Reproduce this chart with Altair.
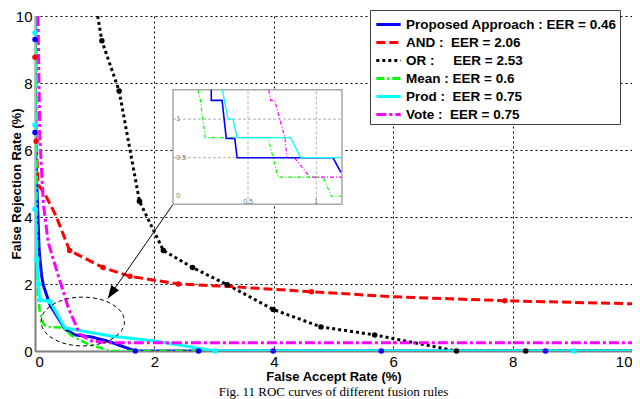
import altair as alt
import pandas as pd

# ---------------- data ----------------
SERIES = [
    "Proposed Approach : EER = 0.46",
    "AND :\u00a0\u00a0EER = 2.06",
    "OR :\u00a0\u00a0\u00a0\u00a0\u00a0EER = 2.53",
    "Mean : EER = 0.6",
    "Prod :\u00a0\u00a0EER = 0.75",
    "Vote :\u00a0\u00a0EER = 0.75",
]
COLORS = ["#0000ff", "#ff0000", "#000000", "#00ff00", "#00ffff", "#ff00ff"]
DASHES = [[1, 0], [9, 4], [3, 3], [8, 3, 2, 3], [1, 0], [10, 3, 3, 3]]
WIDTHS = [3, 3, 3, 2.5, 3, 3]

prop_x = [0.0, 0.0, 0.0, 0.04, 0.07, 0.11, 0.14, 0.25, 0.5, 0.67, 0.95, 1.26, 1.68, 2.74, 3.99, 5.8, 8.55, 10.0]
prop_y = [10.0, 9.3, 6.52, 4.45, 3.0, 2.25, 1.96, 1.38, 0.66, 0.48, 0.42, 0.27, 0.0, 0.0, 0.0, 0.0, 0.0, 0.0]
prop_mx = [0.0, 0.0, 1.68, 2.74, 3.99, 5.8, 8.55]
prop_my = [9.3, 6.52, 0.0, 0.0, 0.0, 0.0, 0.0]

and_x = [0.0, 0.0, 0.02, 0.05, 0.17, 0.35, 0.58, 1.14, 1.59, 2.4, 3.2, 4.63, 6.0, 7.87, 10.0]
and_y = [10.0, 8.77, 6.26, 4.98, 4.67, 4.04, 3.0, 2.49, 2.23, 2.0, 1.93, 1.77, 1.62, 1.5, 1.41]
and_mx = [0.0, 0.02, 0.58, 1.14, 1.59, 2.4, 4.63, 7.87]
and_my = [8.77, 6.26, 3.0, 2.49, 2.23, 2.0, 1.77, 1.5]

or_x = [1.05, 1.12, 1.41, 1.75, 2.15, 2.64, 3.22, 3.99, 4.79, 5.69, 7.06, 8.22, 10.0]
or_y = [10.0, 9.26, 7.76, 4.47, 3.0, 2.49, 1.98, 1.24, 0.72, 0.48, 0.0, 0.0, 0.0]
or_mx = [1.12, 1.41, 1.75, 2.15, 2.64, 3.22, 3.99, 4.79, 5.69, 7.06, 8.22]
or_my = [9.26, 7.76, 4.47, 3.0, 2.49, 1.98, 1.24, 0.72, 0.48, 0.0, 0.0]

mean_x = [0.02, 0.03, 0.05, 0.08, 0.14, 0.2, 0.47, 0.61, 0.87, 1.26, 10.0]
mean_y = [10.0, 4.0, 1.6, 1.19, 0.8, 0.72, 0.7, 0.46, 0.22, 0.0, 0.0]

prod_x = [0.0, 0.0, 0.0, 0.0, 0.03, 0.06, 0.08, 0.25, 0.5, 1.26, 2.0, 3.02, 9.03, 10.0]
prod_y = [10.0, 9.5, 6.75, 4.23, 2.73, 2.0, 1.53, 1.48, 0.69, 0.45, 0.3, 0.0, 0.0, 0.0]
prod_mx = [0.0, 0.0, 0.0, 0.03, 0.06, 0.08, 0.25, 3.02, 9.03]
prod_my = [9.5, 6.75, 4.23, 2.73, 2.0, 1.53, 1.48, 0.0, 0.0]

vote_x = [0.05, 0.08, 0.14, 0.22, 0.39, 0.56, 0.75, 0.95, 1.2, 10.0]
vote_y = [10.0, 6.4, 4.4, 3.25, 2.25, 1.28, 0.5, 0.3, 0.25, 0.25]

# inset (zoomed view), in the inset's own units
in_prop_x = [0.231, 0.231, 0.31, 0.341, 0.403, 0.42, 1.122, 1.18]
in_prop_y = [1.38, 1.243, 1.243, 0.748, 0.748, 0.5, 0.5, 0.31]
in_prod_x = [0.312, 0.354, 0.39, 0.42, 0.81, 0.886, 1.188]
in_prod_y = [1.38, 1.0, 1.0, 0.76, 0.76, 0.5, 0.5]
in_mean_x = [0.134, 0.151, 0.187, 0.646, 0.72, 1.05, 1.11, 1.188]
in_mean_y = [1.38, 1.243, 0.76, 0.76, 0.248, 0.248, 0.0, 0.0]
in_vote_x = [0.652, 0.666, 0.695, 0.77, 0.785, 0.84, 0.952, 1.188]
in_vote_y = [1.38, 1.243, 1.243, 0.76, 0.5, 0.5, 0.248, 0.248]
in_grid = [0.5, 1.0]
in_xlim = [-0.049, 1.188]
in_ylim = [-0.105, 1.38]

# annotations (main-plot units)
inset_box_x = [2.312, 5.142]
inset_box_y = [4.377, 7.797]
arrow_x = [2.312, 1.22]
arrow_y = [4.377, 1.57]
ellipse_center = [0.80, 0.88]

# ---------------- layout ----------------
W, H = 597, 335
FONT = "Liberation Sans"

def frame(xs, ys, name=None):
    d = pd.DataFrame({"x": xs, "y": ys, "i": list(range(len(xs)))})
    if name is not None:
        d["series"] = name
    return d

legend = alt.Legend(
    orient="none", legendX=335, legendY=-6, title=None,
    fillColor="white", strokeColor="#404040", padding=3,
    labelFont=FONT, labelFontSize=13.5, labelFontWeight="bold", labelColor="black",
    labelLimit=400, labelOffset=6,
    symbolType="M-1.25,0H1.25", symbolSize=380, symbolStrokeWidth=3, symbolOffset=4,
    rowPadding=0,
)
color_enc = alt.Color("series:N", scale=alt.Scale(domain=SERIES, range=COLORS), legend=legend)
dash_enc = alt.StrokeDash("series:N", scale=alt.Scale(domain=SERIES, range=DASHES), legend=legend)

x_enc = alt.X("x:Q", scale=alt.Scale(domain=[0, 10], nice=False, zero=False),
              axis=alt.Axis(values=[0, 2, 4, 6, 8, 10], title="False Accept Rate (%)",
                            grid=True, gridColor="black", gridDash=[2, 3], gridWidth=1,
                            domainColor="#808080", domainWidth=2, ticks=False,
                            labelFont=FONT, labelFontSize=15, labelColor="black", labelPadding=3,
                            titleFont=FONT, titleFontSize=13, titleFontWeight="bold",
                            titleColor="black", titlePadding=1))
y_enc = alt.Y("y:Q", scale=alt.Scale(domain=[0, 10], nice=False, zero=False),
              axis=alt.Axis(values=[0, 2, 4, 6, 8, 10], title="False Rejection Rate (%)",
                            grid=True, gridColor="black", gridDash=[2, 3], gridWidth=1,
                            domainColor="#808080", domainWidth=2, ticks=False,
                            labelFont=FONT, labelFontSize=15, labelColor="black", labelPadding=3,
                            titleFont=FONT, titleFontSize=13, titleFontWeight="bold",
                            titleColor="black", titleX=-12))

lines_data = [(prop_x, prop_y), (and_x, and_y), (or_x, or_y),
              (mean_x, mean_y), (prod_x, prod_y), (vote_x, vote_y)]
layers = []
for (xs, ys), name, w in zip(lines_data, SERIES, WIDTHS):
    layers.append(
        alt.Chart(frame(xs, ys, name)).mark_line(strokeWidth=w, clip=True).encode(
            x=x_enc, y=y_enc, color=color_enc, strokeDash=dash_enc, order="i:Q")
    )

markers = [(prop_mx, prop_my, COLORS[0]), (and_mx, and_my, COLORS[1]),
           (or_mx, or_my, COLORS[2]), (prod_mx, prod_my, COLORS[4])]
for mx, my, c in markers:
    layers.append(
        alt.Chart(frame(mx, my)).mark_point(filled=True, size=30, opacity=1, shape="circle").encode(
            x=x_enc, y=y_enc, color=alt.value(c))
    )

# dashed ellipse around the zoomed region
rx_px = 41.7
layers.append(
    alt.Chart(frame([ellipse_center[0]], [ellipse_center[1]])).mark_point(
        shape="M-1,0A1,0.585,0,1,1,1,0A1,0.585,0,1,1,-1,0Z",
        size=(2 * rx_px) ** 2, filled=False, stroke="black", strokeWidth=1,
        strokeDash=[4, 3], opacity=1).encode(x=x_enc, y=y_enc)
)
# arrow
arrow_df = pd.DataFrame({"x": [arrow_x[0]], "y": [arrow_y[0]], "x2": [arrow_x[1]], "y2": [arrow_y[1]]})
layers.append(
    alt.Chart(arrow_df).mark_rule(color="black", strokeWidth=1).encode(
        x=x_enc, y=y_enc, x2="x2:Q", y2="y2:Q")
)
layers.append(
    alt.Chart(frame([arrow_x[1]], [arrow_y[1]])).mark_point(
        shape="M0,0L0.36,1L-0.36,1Z", size=676, filled=True, color="black",
        angle=214, opacity=1).encode(x=x_enc, y=y_enc)
)
main = alt.layer(*layers)

# ---------------- inset ----------------
sx = (inset_box_x[1] - inset_box_x[0]) / (in_xlim[1] - in_xlim[0])
sy = (inset_box_y[1] - inset_box_y[0]) / (in_ylim[1] - in_ylim[0])
ix_dom = [in_xlim[0] - inset_box_x[0] / sx, in_xlim[1] + (10 - inset_box_x[1]) / sx]
iy_dom = [in_ylim[0] - inset_box_y[0] / sy, in_ylim[1] + (10 - inset_box_y[1]) / sy]
ix = alt.X("x:Q", scale=alt.Scale(domain=ix_dom, nice=False, zero=False), axis=None)
iy = alt.Y("y:Q", scale=alt.Scale(domain=iy_dom, nice=False, zero=False), axis=None)

box_df = pd.DataFrame({"x": [in_xlim[0]], "x2": [in_xlim[1]], "y": [in_ylim[0]], "y2": [in_ylim[1]]})
inset_layers = [
    alt.Chart(box_df).mark_rect(fill="white", stroke="#a8a8a8", strokeWidth=1.5).encode(
        x=ix, x2="x2:Q", y=iy, y2="y2:Q"),
    alt.Chart(pd.DataFrame({"x": in_grid, "y": [in_ylim[0]] * 2, "y2": [in_ylim[1]] * 2}))
    .mark_rule(color="#b0b0b0", strokeDash=[3, 2], strokeWidth=1).encode(x=ix, y=iy, y2="y2:Q"),
    alt.Chart(pd.DataFrame({"y": in_grid, "x": [in_xlim[0]] * 2, "x2": [in_xlim[1]] * 2}))
    .mark_rule(color="#b0b0b0", strokeDash=[3, 2], strokeWidth=1).encode(y=iy, x=ix, x2="x2:Q"),
    alt.Chart(pd.DataFrame({"x": in_grid, "y": [-0.07, -0.07], "t": ["0.5", "1"]}))
    .mark_text(fontSize=7, color="#777777", font=FONT).encode(x=ix, y=iy, text="t:N"),
    alt.Chart(pd.DataFrame({"x": [-0.025] * 3, "y": [0.0, 0.5, 1.0], "t": ["0", "0.5", "1"]}))
    .mark_text(fontSize=7, color="#777777", font=FONT, align="left").encode(x=ix, y=iy, text="t:N"),
]
inset_lines = [(in_mean_x, in_mean_y, COLORS[3], [4, 2, 1, 2], 1.2),
               (in_vote_x, in_vote_y, COLORS[5], [4, 2, 1, 2], 1.2),
               (in_prop_x, in_prop_y, COLORS[0], [1, 0], 1.6),
               (in_prod_x, in_prod_y, COLORS[4], [1, 0], 1.3)]
for xs, ys, c, d, w in inset_lines:
    inset_layers.append(
        alt.Chart(frame(xs, ys)).mark_line(color=c, strokeDash=d, strokeWidth=w).encode(
            x=ix, y=iy, order="i:Q")
    )
inset = alt.layer(*inset_layers)

chart = (
    alt.layer(main, inset)
    .resolve_scale(x="independent", y="independent")
    .properties(
        width=W, height=H,
        padding={"left": 27, "top": 8, "right": 0, "bottom": 60},
        autosize=alt.AutoSizeParams(type="none"),
        title=alt.TitleParams("Fig. 11 ROC curves of different fusion rules", orient="bottom",
                              font="Liberation Serif", fontSize=13, fontWeight="normal",
                              color="black", offset=3, anchor="middle"),
    )
    .configure_view(strokeOpacity=0)
)

chart.save("out.html", embed_options={"renderer": "svg", "actions": False})
